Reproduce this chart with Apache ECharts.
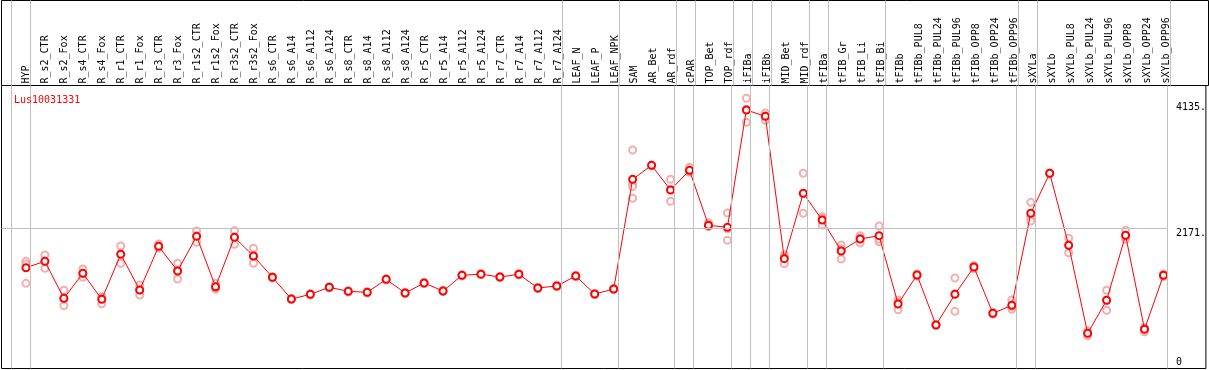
<!DOCTYPE html>
<html>
<head>
<meta charset="utf-8">
<script src="https://cdn.jsdelivr.net/npm/echarts@6/dist/echarts.min.js"></script>
<style>html,body{margin:0;padding:0;background:#fff}#c{width:1209px;height:370px}</style>
</head>
<body>
<div id="c"></div>
<script>
const categories = ["HYP","R_s2_CTR","R_s2_Fox","R_s4_CTR","R_s4_Fox","R_r1_CTR","R_r1_Fox","R_r3_CTR","R_r3_Fox","R_r1s2_CTR","R_r1s2_Fox","R_r3s2_CTR","R_r3s2_Fox","R_s6_CTR","R_s6_A14","R_s6_A112","R_s6_A124","R_s8_CTR","R_s8_A14","R_s8_A112","R_s8_A124","R_r5_CTR","R_r5_A14","R_r5_A112","R_r5_A124","R_r7_CTR","R_r7_A14","R_r7_A112","R_r7_A124","LEAF_N","LEAF_P","LEAF_NPK","SAM","AR_Bet","AR_rdf","cPAR","TOP_Bet","TOP_rdf","iFIBa","iFIBb","MID_Bet","MID_rdf","tFIBa","tFIB_Gr","tFIB_Li","tFIB_Bi","tFIBb","tFIBb_PUL8","tFIBb_PUL24","tFIBb_PUL96","tFIBb_OPP8","tFIBb_OPP24","tFIBb_OPP96","sXYLa","sXYLb","sXYLb_PUL8","sXYLb_PUL24","sXYLb_PUL96","sXYLb_OPP8","sXYLb_OPP24","sXYLb_OPP96"];

const means = [1556,1656,1079,1469,1063,1765,1209,1890,1505,2046,1260,2030,1739,
  1407,1068,1141,1251,1188,1172,1375,1162,1318,1193,1437,1456,1411,1454,1240,1271,1427,1146,1224,
  2935,3153,2768,3075,2218,2186,4016,3917,1697,2716,2300,1817,2004,2056,990,1443,663,1141,1567,845,970,2405,3029,1905,533,1048,2062,596,1438];

const rep1 = [1657,1754,1204,1536,1104,1895,1287,1926,1625,2129,1313,2134,1859,
  1417,1078,1151,1261,1198,1182,1385,1172,1328,1203,1447,1466,1421,1464,1250,1281,1437,1156,1234,
  3392,3160,2935,3122,2258,2410,4198,3969,1754,3029,2352,1910,2056,2207,1053,1460,670,1396,1590,860,1053,2576,3035,2015,496,1204,2140,558,1460];

const rep2 = [1614,1547,964,1406,995,1625,1131,1884,1380,1953,1224,1921,1625,
  1397,1058,1131,1241,1178,1162,1365,1152,1308,1183,1427,1446,1401,1444,1230,1261,1417,1136,1214,
  2857,3145,2592,3044,2196,1984,3824,3855,1619,2405,2222,1692,1942,1962,901,1425,655,876,1540,830,907,2336,3022,1790,570,892,1999,620,1420];

const rep3 = [1313,1660,1070,1465,1090,1775,1210,1860,1510,2056,1243,2035,1733,
  null,null,null,null,null,null,null,null,null,null,null,null,null,null,null,null,null,null,null,
  2820,null,2777,3060,2200,2164,4026,3927,1718,2714,2326,1849,2014,2000,1016,null,null,1151,null,null,950,2285,null,1910,533,1048,2047,610,null];

const rep4 = categories.map((c, i) => c === "SAM" ? 2639 : null);

// category indices after which a group separator is drawn
const groupEnds = [-1, 0, 28, 31, 34, 35, 37, 38, 39, 41, 42, 45, 52, 53, 60];

const yTicks = [0, 2171, 4135];
const yTickLabels = ["0", "2171.", "4135."];
const refLine = 2171;
const geneName = "Lus10031331";

const FONT = "DejaVu Sans Mono";
const X_MIN = -1.2895, X_MAX = 62.237;
const SEP_OFF = 0.22;

const repPoints = [];
[rep1, rep2, rep3, rep4].forEach(arr => arr.forEach((v, i) => { if (v != null) repPoints.push([i, v]); }));

const sepMarks = groupEnds.map(g => ({ xAxis: g + SEP_OFF }));
const sepStyle = { symbol: 'none', silent: true, animation: false, label: { show: false },
  lineStyle: { color: '#c0c0c0', width: 1, type: 'solid' } };

const chart = echarts.init(document.getElementById('c'), null, { renderer: 'canvas' });
chart.setOption({
  animation: false,
  backgroundColor: '#fff',
  title: { text: geneName, left: 9, top: 90, textStyle: { color: '#ff0000', fontFamily: FONT, fontSize: 10, fontWeight: 'normal' } },
  grid: [
    { left: 1.5, right: 0.5, top: 0.5, height: 85, show: true, borderColor: '#000', borderWidth: 1, backgroundColor: 'transparent' },
    { left: 1.5, right: 0.5, top: 85.5, bottom: 1.5, show: true, borderColor: '#000', borderWidth: 1, backgroundColor: 'transparent' }
  ],
  xAxis: [
    { gridIndex: 0, type: 'value', min: X_MIN, max: X_MAX, position: 'bottom',
      axisLine: { show: false }, axisTick: { show: false }, splitLine: { show: false },
      axisLabel: { show: true, inside: true, rotate: 90, margin: 2, fontFamily: FONT, fontSize: 10, color: '#000',
        customValues: categories.map((c, i) => i), formatter: v => categories[Math.round(v)] || '' } },
    { gridIndex: 1, type: 'value', min: X_MIN, max: X_MAX, show: false, splitLine: { show: false } }
  ],
  yAxis: [
    { gridIndex: 0, type: 'value', min: 0, max: 1, show: false, splitLine: { show: false } },
    { gridIndex: 1, type: 'value', min: -15.6, max: 4398, position: 'right',
      axisLine: { show: false }, axisTick: { show: false }, splitLine: { show: false },
      axisLabel: { show: true, inside: true, margin: 30, align: 'left', verticalAlign: 'top', verticalAlignMinLabel: 'bottom',
        fontFamily: FONT, fontSize: 10, color: '#000',
        customValues: yTicks, formatter: v => yTickLabels[yTicks.indexOf(v)] } }
  ],
  series: [
    { type: 'line', xAxisIndex: 0, yAxisIndex: 0, data: [], silent: true,
      markLine: Object.assign({}, sepStyle, { data: sepMarks }) },
    { type: 'scatter', xAxisIndex: 1, yAxisIndex: 1, data: repPoints, symbol: 'emptyCircle', symbolSize: 7,
      itemStyle: { color: '#f09a9a', borderColor: '#f09a9a', borderWidth: 1 }, silent: true, z: 3,
      markLine: Object.assign({}, sepStyle, { data: sepMarks.concat([[{ coord: [X_MIN, refLine] }, { coord: [60 + SEP_OFF, refLine] }]]) }) },
    { type: 'line', xAxisIndex: 1, yAxisIndex: 1, data: means.map((v, i) => [i, v]),
      symbol: 'emptyCircle', symbolSize: 7, showAllSymbol: true,
      lineStyle: { color: '#ff0000', width: 1 }, itemStyle: { color: '#ff0000', borderColor: '#ff0000', borderWidth: 1.3 },
      silent: true, z: 4 }
  ]
});
</script>
</body>
</html>
